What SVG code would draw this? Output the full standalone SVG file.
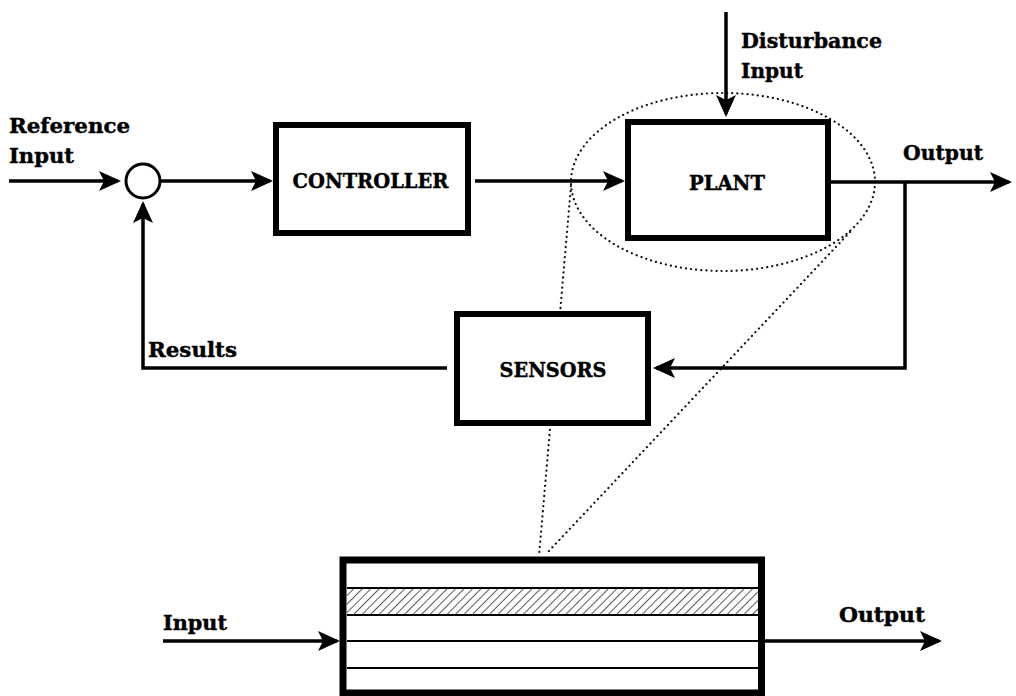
<svg xmlns="http://www.w3.org/2000/svg" width="1016" height="696" viewBox="0 0 1016 696">
<style>
.lbl{font-family:"DejaVu Serif","Liberation Serif",serif;font-weight:bold;font-size:20px;fill:#000;stroke:#000;stroke-width:0.4}
.box{fill:#fff;stroke:#000;stroke-width:6}
.wire{fill:none;stroke:#000;stroke-width:3.5}
.arr{marker-end:url(#ah)}
.dot{fill:none;stroke:#111;stroke-width:2.2;stroke-linecap:round;stroke-dasharray:0.1 5}
.thin{stroke:#000;stroke-width:2}
</style>
<defs>
<marker id="ah" markerUnits="userSpaceOnUse" viewBox="0 0 22 20" markerWidth="22" markerHeight="20" refX="19" refY="10" orient="auto">
<path d="M0,0 L22,10 L0,20 L5,10 Z" fill="#000"/>
</marker>
<pattern id="hatch" patternUnits="userSpaceOnUse" width="6" height="6" patternTransform="rotate(45)">
<line x1="0" y1="0" x2="0" y2="6" stroke="#000" stroke-width="1.3"/>
</pattern>
</defs>
<rect width="1016" height="696" fill="#fff"/>

<g id="zoom-guides">
<ellipse class="dot" cx="723" cy="182" rx="152" ry="89"/>
<line class="dot" x1="571" y1="186" x2="539" y2="556"/>
<line class="dot" x1="850" y1="232" x2="547" y2="553"/>
</g>

<g id="connectors">
<line class="wire arr" x1="9" y1="181" x2="118" y2="181"/>
<line class="wire arr" x1="160" y1="181" x2="270" y2="181"/>
<line class="wire arr" x1="475" y1="181" x2="622" y2="181"/>
<line class="wire arr" x1="726" y1="12" x2="726" y2="114"/>
<line class="wire arr" x1="828" y1="182" x2="1009" y2="182"/>
<polyline class="wire arr" points="905,182 905,368 656,368"/>
<polyline class="wire arr" points="447,368 143,368 143,204"/>
<line class="wire arr" x1="163" y1="641" x2="337" y2="641"/>
<line class="wire arr" x1="765" y1="641" x2="939" y2="641"/>
</g>

<g id="summing-junction">
<circle cx="143" cy="181" r="17" fill="#fff" stroke="#000" stroke-width="3"/>
</g>

<g id="controller">
<rect class="box" x="276" y="125" width="192" height="108"/>
<text class="lbl" x="370.5" y="188" text-anchor="middle" textLength="156" lengthAdjust="spacingAndGlyphs">CONTROLLER</text>
</g>

<g id="plant">
<rect class="box" x="628" y="122" width="200" height="116" stroke-width="5.5"/>
<text class="lbl" x="727" y="190" text-anchor="middle" textLength="76" lengthAdjust="spacingAndGlyphs">PLANT</text>
</g>

<g id="sensors">
<rect class="box" x="457" y="314" width="191" height="109"/>
<text class="lbl" x="553" y="377" text-anchor="middle" textLength="107" lengthAdjust="spacingAndGlyphs">SENSORS</text>
</g>

<g id="layered-detail">
<rect x="343" y="560" width="418.5" height="133" fill="#fff" stroke="#000" stroke-width="7"/>
<rect x="347" y="588" width="411" height="27" fill="url(#hatch)"/>
<line class="thin" x1="347" y1="588" x2="758" y2="588"/>
<line class="thin" x1="347" y1="615" x2="758" y2="615"/>
<line class="thin" x1="347" y1="641" x2="758" y2="641"/>
<line class="thin" x1="347" y1="668" x2="758" y2="668"/>
</g>

<g id="labels">
<text class="lbl" x="9" y="133" textLength="121" lengthAdjust="spacingAndGlyphs">Reference</text>
<text class="lbl" x="9" y="163" textLength="65" lengthAdjust="spacingAndGlyphs">Input</text>
<text class="lbl" x="741" y="48" textLength="141" lengthAdjust="spacingAndGlyphs">Disturbance</text>
<text class="lbl" x="741" y="78" textLength="62" lengthAdjust="spacingAndGlyphs">Input</text>
<text class="lbl" x="903" y="160" textLength="80" lengthAdjust="spacingAndGlyphs">Output</text>
<text class="lbl" x="148" y="357" textLength="89" lengthAdjust="spacingAndGlyphs">Results</text>
<text class="lbl" x="163" y="630" textLength="64" lengthAdjust="spacingAndGlyphs">Input</text>
<text class="lbl" x="839" y="622" textLength="86" lengthAdjust="spacingAndGlyphs">Output</text>
</g>
</svg>
